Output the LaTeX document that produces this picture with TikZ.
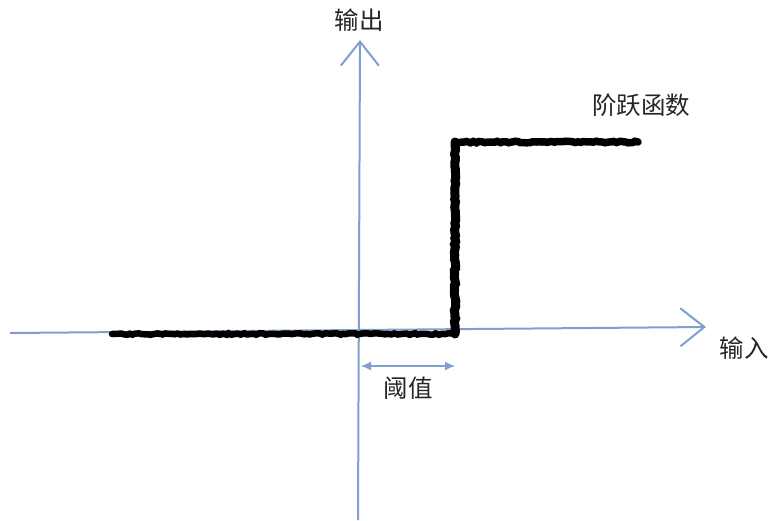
\documentclass[tikz,border=0pt]{standalone}
\usepackage{fontspec}
\newfontfamily\cjk{Noto Sans CJK SC}
\usetikzlibrary{arrows.meta,decorations.pathmorphing,positioning}
\definecolor{axisblue}{RGB}{128,158,206}

\begin{document}
\begin{tikzpicture}[x=1pt,y=-1pt,
    axis/.style={draw=axisblue, line width=2pt, -{Straight Barb[length=24pt,width=38pt,line width=2pt]}},
    stepline/.style={draw=black, line width=6.5pt, line cap=round, decorate, decoration={random steps,segment length=3pt,amplitude=0.8pt}},
    lbl/.style={font=\cjk\fontsize{24.5}{28}\selectfont, text=black!85, inner sep=0pt}]
    \useasboundingbox (0,0) rectangle (773,520);
    % axes
    \coordinate (xstart) at (10,333);
    \coordinate (xend) at (706,327);
    \coordinate (ybot) at (358,520);
    \coordinate (ytop) at (360,40);
    \draw[axis] (xstart) -- (xend);
    \draw[axis] (ybot) -- (ytop);
    % step function
    \coordinate (s0) at (112,334);
    \coordinate (s1) at (455,334);
    \coordinate (s2) at (455,142);
    \coordinate (s3) at (638,142);
    \draw[stepline] (s0) -- (s1);
    \draw[stepline, line width=9pt] (s1) -- (s2);
    \draw[stepline, line width=7.5pt] (s2) -- (s3);
    % threshold
    \coordinate (t0) at (361,366);
    \coordinate (t1) at (455,366);
    \draw[axisblue, line width=1.4pt, {Latex[length=10pt,width=9pt]}-{Latex[length=10pt,width=9pt]}] (t0) -- (t1);
    % labels
    \node[lbl] (outlbl) at (359,20) {输出};
    \node[lbl] (inlbl) at (744,348) {输入};
    \node[lbl] (steplbl) at (641,105) {阶跃函数};
    \node[lbl] (thrlbl) at (408,388) {阈值};
\end{tikzpicture}
\end{document}
